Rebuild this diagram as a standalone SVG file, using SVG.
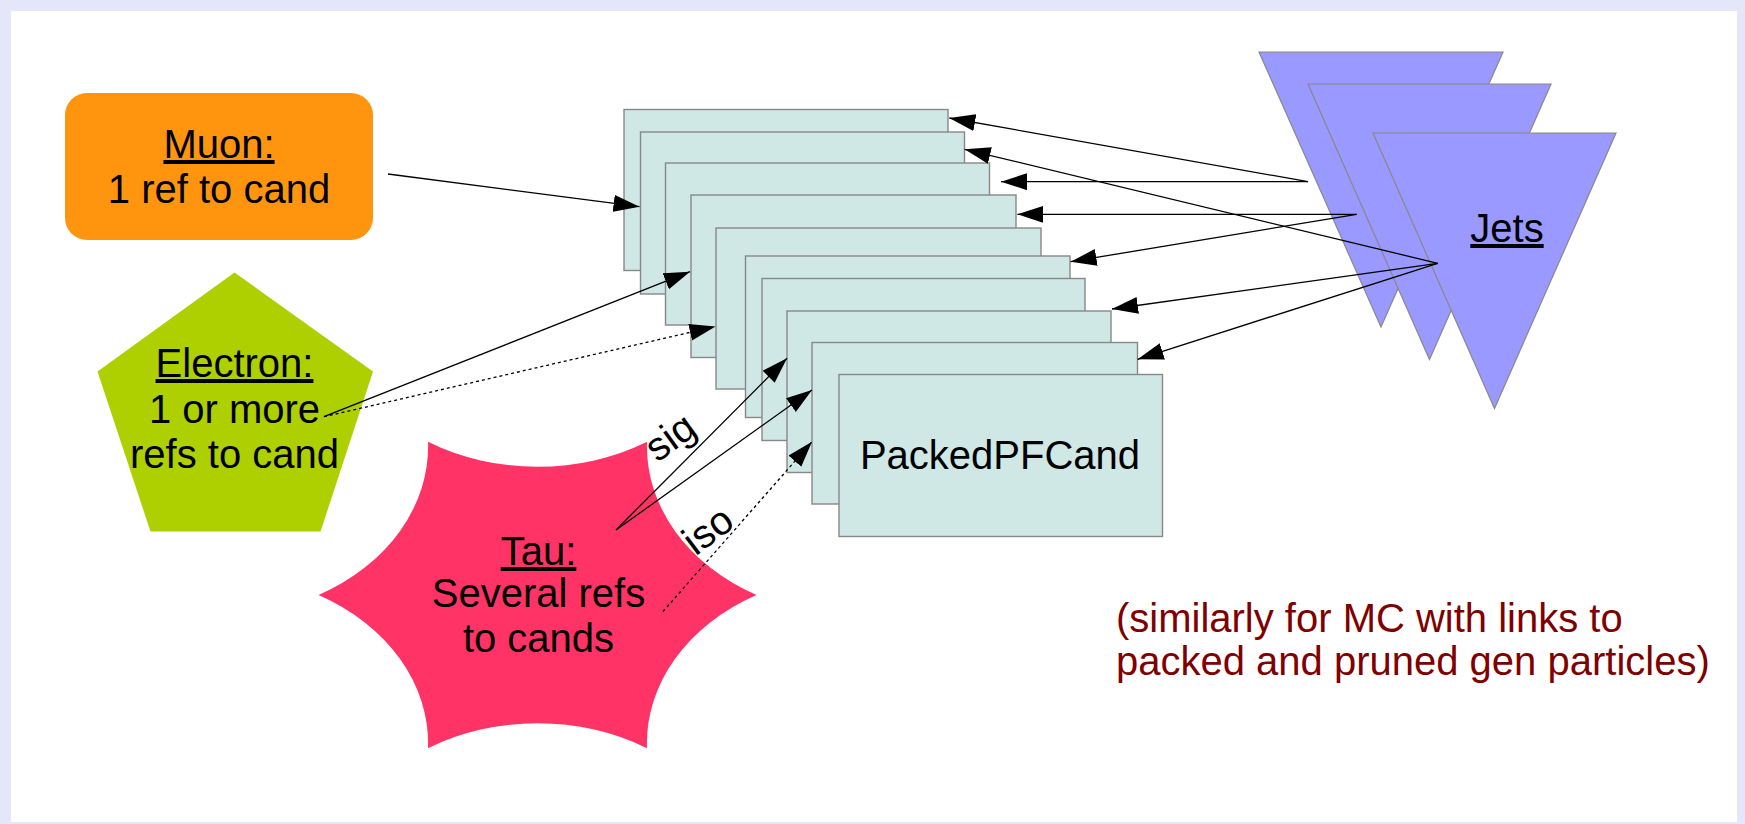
<svg xmlns="http://www.w3.org/2000/svg" width="1745" height="824" viewBox="0 0 1745 824">
  <defs>
    <marker id="arrow" markerUnits="userSpaceOnUse" markerWidth="27" markerHeight="18" refX="26" refY="8.5" orient="auto">
      <path d="M0,0 L26,8.5 L0,17 Z" fill="#000"/>
    </marker>
    <style>
      text { font-family: "Liberation Sans", Arial, sans-serif; font-size: 40px; fill: #000; }
      .mid { text-anchor: middle; }
      .ul { text-decoration: underline; }
      .cand { fill: #cfe7e5; stroke: #888; stroke-width: 1.4; }
      .jet { fill: #9999ff; stroke: #888; stroke-width: 1.2; }
      .link { fill: none; stroke: #000; stroke-width: 1.3; marker-end: url(#arrow); }
      .dot { stroke-dasharray: 3 3; }
      .note { fill: #800000; }
    </style>
  </defs>

  <!-- page frame -->
  <rect x="0" y="0" width="1745" height="824" fill="#e6e6fa"/>
  <rect x="11" y="11" width="1726" height="811" fill="#fff"/>

  <!-- Muon -->
  <g id="muon">
    <rect x="65" y="93" width="308" height="147" rx="22" ry="22" fill="#ff950e"/>
    <text class="mid ul" x="219" y="158">Muon:</text>
    <text class="mid" x="219" y="203">1 ref to cand</text>
  </g>

  <!-- Electron -->
  <g id="electron">
    <polygon points="234.5,272.5 373,371.5 320.5,531.5 150.5,531.5 97.5,371.5" fill="#aecf00"/>
    <text class="mid ul" x="234.5" y="377">Electron:</text>
    <text class="mid" x="234.5" y="423">1 or more</text>
    <text class="mid" x="234.5" y="468">refs to cand</text>
  </g>

  <!-- Tau: concave six-point star -->
  <g id="tau">
    <path transform="translate(537.5,595) scale(1,0.808)" fill="#ff3366"
          d="M219,0 A208.9,208.9 0 0 0 109.5,189.67 A208.9,208.9 0 0 0 -109.5,189.67 A208.9,208.9 0 0 0 -219,0 A208.9,208.9 0 0 0 -109.5,-189.67 A208.9,208.9 0 0 0 109.5,-189.67 A208.9,208.9 0 0 0 219,0 Z"/>
    <text class="mid ul" x="538.5" y="565">Tau:</text>
    <text class="mid" x="538.5" y="607">Several refs</text>
    <text class="mid" x="538.5" y="652">to cands</text>
  </g>

  <!-- PackedPFCand stack -->
  <g id="packed-pf-cand">
    <rect class="cand" x="624" y="109.5" width="324" height="161"/>
    <rect class="cand" x="640.5" y="132" width="324" height="162"/>
    <rect class="cand" x="665.5" y="163" width="324" height="162"/>
    <rect class="cand" x="691" y="195" width="325" height="162.5"/>
    <rect class="cand" x="716" y="228" width="325" height="161"/>
    <rect class="cand" x="745.5" y="256" width="324.5" height="161.5"/>
    <rect class="cand" x="762" y="278.5" width="323" height="162"/>
    <rect class="cand" x="787" y="311" width="324" height="161.5"/>
    <rect class="cand" x="812" y="342.5" width="325.5" height="161.5"/>
    <rect class="cand" x="839" y="374.5" width="323.5" height="162"/>
    <text class="mid" x="1000" y="469">PackedPFCand</text>
  </g>

  <!-- Jets stack -->
  <g id="jets">
    <polygon class="jet" points="1259,52 1503,52 1381,327"/>
    <polygon class="jet" points="1308,84 1551,84 1429.5,359.5"/>
    <polygon class="jet" points="1373,133 1616,133 1494.5,408.5"/>
    <text class="mid ul" x="1507" y="242">Jets</text>
  </g>

  <!-- references -->
  <g id="connectors">
    <line class="link" x1="388" y1="174" x2="639.5" y2="206.7"/>
    <line class="link" x1="324" y1="416.7" x2="690" y2="271.7"/>
    <line class="link dot" x1="324" y1="416.7" x2="715.5" y2="326.5"/>
    <line class="link" x1="616" y1="530" x2="787" y2="358.3"/>
    <line class="link" x1="616" y1="530" x2="812" y2="390"/>
    <line class="link dot" x1="663" y1="611.5" x2="812" y2="441.7"/>
    <line class="link" x1="1308" y1="181.7" x2="949.3" y2="118"/>
    <line class="link" x1="1308" y1="181.7" x2="1001" y2="181.7"/>
    <line class="link" x1="1356.6" y1="214.3" x2="1017.4" y2="214.3"/>
    <line class="link" x1="1356.6" y1="214.3" x2="1070.6" y2="261.7"/>
    <line class="link" x1="1437.7" y1="263.3" x2="964.6" y2="149.3"/>
    <line class="link" x1="1437.7" y1="263.3" x2="1112" y2="309"/>
    <line class="link" x1="1437.7" y1="263.3" x2="1137.6" y2="359.3"/>
    <text class="mid" transform="translate(678,448) rotate(-36)" x="0" y="0">sig</text>
    <text class="mid" transform="translate(716,541) rotate(-37)" x="0" y="0">iso</text>
  </g>

  <!-- note -->
  <g id="note">
    <text class="note" x="1116" y="632">(similarly for MC with links to</text>
    <text class="note" x="1116" y="675">packed and pruned gen particles)</text>
  </g>
</svg>
